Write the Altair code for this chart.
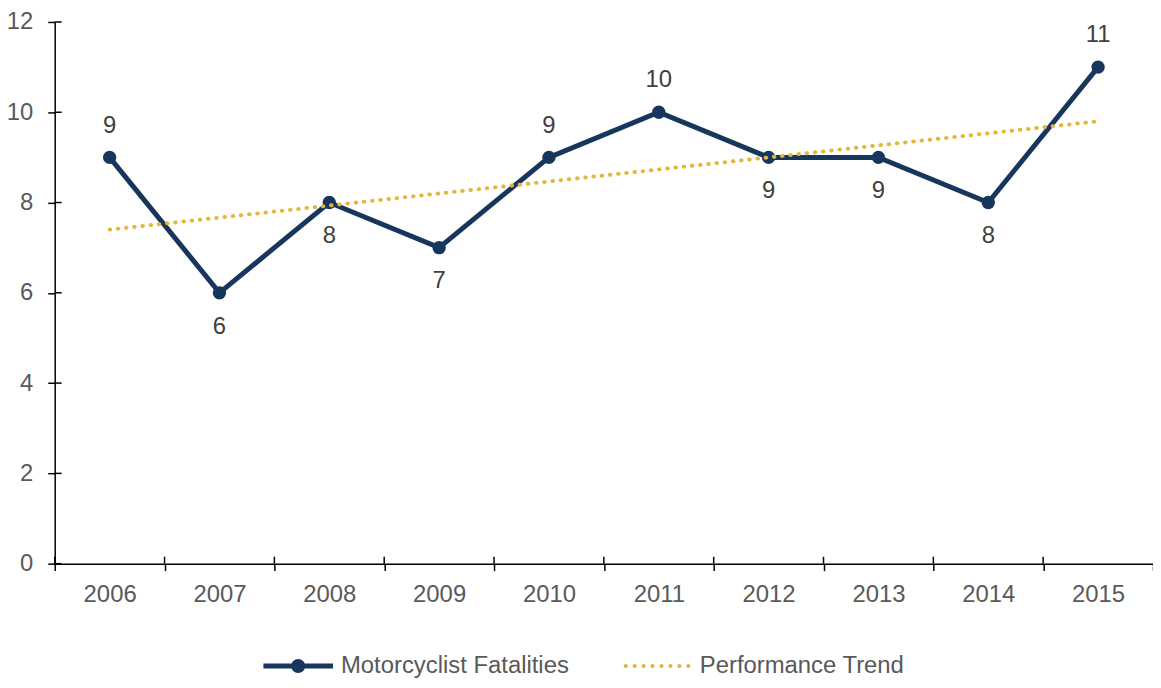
import altair as alt
import pandas as pd

# ---- data ----
years = ["2006", "2007", "2008", "2009", "2010", "2011", "2012", "2013", "2014", "2015"]
fatalities = [9, 6, 8, 7, 9, 10, 9, 9, 8, 11]
label_side = ["above", "below", "below", "below", "above", "above", "below", "below", "below", "above"]
trend_years = ["2006", "2015"]
trend_values = [7.4, 9.8]
y_ticks = [0, 2, 4, 6, 8, 10, 12]
series_names = ["Motorcyclist Fatalities", "Performance Trend"]

NAVY = "#17365d"
GOLD = "#e1b83c"
LABEL = "#595959"
FONT = "Liberation Sans"
FS = 24

fatal_df = pd.DataFrame({"year": years, "value": fatalities, "side": label_side,
                         "series": series_names[0]})
trend_df = pd.DataFrame({"year": trend_years, "value": trend_values, "series": series_names[1]})
ytick_df = pd.DataFrame({"v": y_ticks})
xtick_df = pd.DataFrame({"year": years})

W, H = 1105, 545

x_axis = alt.Axis(title=None, tickBand="extent", labelAngle=0, grid=False, tickSize=7,
                  tickColor="black", tickWidth=1.5, domainColor="black", domainWidth=1.5,
                  labelFontSize=FS, labelColor=LABEL, labelPadding=12, labelFont=FONT)
y_axis = alt.Axis(title=None, values=y_ticks, grid=False, tickSize=7, tickColor="black",
                  tickWidth=1.5, domainColor="black", domainWidth=1.5, labelFontSize=FS,
                  labelColor=LABEL, labelPadding=15, labelFont=FONT)
x_scale = alt.Scale(type="band", paddingInner=0, paddingOuter=0, domain=years)
y_scale = alt.Scale(domain=[0, 12], nice=False)

X = lambda: alt.X("year:N", scale=x_scale, axis=x_axis, bandPosition=0.5)
Y = lambda: alt.Y("value:Q", scale=y_scale, axis=y_axis)


def circle(cx, r):
    return (f"M{cx - r:.3f},0A{r:.3f},{r:.3f} 0 1,1 {cx + r:.3f},0"
            f"A{r:.3f},{r:.3f} 0 1,1 {cx - r:.3f},0Z")


t = 0.071
fatal_symbol = f"M-1,{-t}L1,{-t}L1,{t}L-1,{t}Z" + circle(0, 0.2)
trend_symbol = "".join(circle(-0.9 + i * 1.8 / 7, 0.06) for i in range(8))

legend = alt.Legend(
    title=None, orient="none", direction="horizontal", legendX=210, legendY=613,
    labelFontSize=FS, labelColor=LABEL, labelFont=FONT, symbolSize=4900, labelLimit=0,
    labelOffset=8, columnPadding=53, symbolStrokeWidth=0, symbolOpacity=1,
)
color_scale = alt.Scale(domain=series_names, range=[NAVY, GOLD])

base = alt.Chart(fatal_df)

line = base.mark_line(strokeWidth=5, color=NAVY).encode(x=X(), y=Y())
points = base.mark_point(filled=True, size=180, opacity=1, color=NAVY).encode(x=X(), y=Y())
trend = alt.Chart(trend_df).mark_line(strokeWidth=4, strokeDash=[0.5, 7.8], strokeCap="round",
                                      color=GOLD).encode(x=X(), y=Y())

# legend-only layer (no rows drawn): builds the combined legend symbols
legend_layer = alt.Chart(trend_df).transform_filter("false").mark_point(
    filled=True, opacity=1, strokeWidth=0).encode(
    color=alt.Color("series:N", scale=color_scale, legend=legend),
    shape=alt.Shape("series:N", scale=alt.Scale(domain=series_names, range=[fatal_symbol, trend_symbol]),
                    legend=legend),
)

text_above = base.transform_filter(alt.datum.side == "above").mark_text(
    dy=-32, fontSize=FS, color="#404040", font=FONT, baseline="middle").encode(
    x=X(), y=Y(), text="value:Q")
text_below = base.transform_filter(alt.datum.side == "below").mark_text(
    dy=34, fontSize=FS, color="#404040", font=FONT, baseline="middle").encode(
    x=X(), y=Y(), text="value:Q")

# inner halves of the axis ticks (ticks cross the axis lines)
ytick_inner = alt.Chart(ytick_df).mark_rule(color="black", strokeWidth=1.5).encode(
    y=alt.Y("v:Q", scale=y_scale, axis=y_axis), x=alt.value(0), x2=alt.value(7))
xtick_inner = alt.Chart(xtick_df).mark_rule(color="black", strokeWidth=1.5).encode(
    x=alt.X("year:N", scale=x_scale, axis=x_axis, bandPosition=0), y=alt.value(H - 7), y2=alt.value(H))

chart = alt.layer(
    line, points, trend, text_above, text_below, ytick_inner, xtick_inner, legend_layer
).properties(
    width=W, height=H,
    padding={"left": 47, "top": 12, "right": 0, "bottom": 115},
    autosize=alt.AutoSizeParams(type="none"),
).configure(font=FONT).configure_view(stroke=None, strokeWidth=0)

chart.save("out.html", embed_options={"renderer": "svg", "actions": False})
